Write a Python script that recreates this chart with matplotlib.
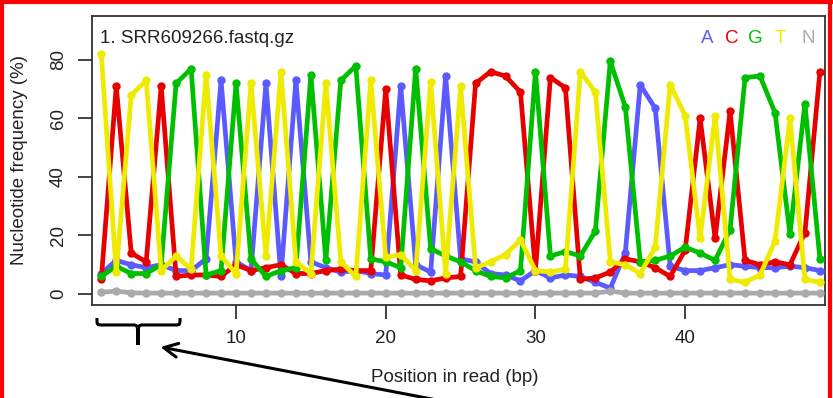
import numpy as np
import matplotlib
matplotlib.use("Agg")
import matplotlib.pyplot as plt
from matplotlib.path import Path
from matplotlib.patches import PathPatch
from matplotlib.lines import Line2D
from matplotlib.transforms import blended_transform_factory

plt.rcParams['font.family'] = ['Liberation Sans', 'DejaVu Sans']

# nucleotide frequency (%) per read position
positions = np.arange(1, 50)
freq_a = [7, 11.5, 10, 9, 10, 8, 8, 12, 73, 11,
          8, 72, 6, 73, 11, 9, 7.5, 8, 7, 6.5,
          71, 10, 7.5, 74.5, 12, 11, 7, 6.5, 4.5, 8,
          5.5, 6.5, 6, 4, 2, 14, 71.5, 63.5, 9.5, 8,
          8, 9, 10, 9.5, 9, 9, 9.5, 9, 8]
freq_c = [5, 71, 14, 11, 71, 6, 6.5, 6.5, 6, 10,
          8, 9, 10, 7, 7, 8, 8.5, 8, 8, 70,
          6.5, 5, 4.5, 5.5, 6, 72, 76, 74.5, 69, 8,
          74, 70.5, 5, 5.5, 7.5, 12, 11, 9, 6, 15,
          60, 19, 62.5, 11.5, 10, 11, 10, 21, 76]
freq_g = [6, 9.5, 7, 7, 10, 72, 77, 6.5, 8, 72,
          12, 6, 8, 9, 75, 11.5, 73, 78, 12, 11,
          9, 77, 15.5, 13, 11, 8, 6, 5.5, 8, 76,
          13, 14.5, 13, 21.5, 79.5, 64, 11, 11.5, 13, 16,
          14, 11.5, 22, 74, 74.5, 62, 20.5, 65, 12]
freq_t = [82, 7.5, 68, 73, 8, 13, 8.5, 75, 13, 7,
          72, 13, 76, 11, 7, 72, 11, 6, 73, 12.5,
          13.5, 8, 72.5, 7, 71, 9, 11, 13.5, 18.5, 8,
          7.5, 8.5, 76, 69, 11, 10, 7, 16, 71.5, 61,
          19, 61, 5, 4, 6.5, 18, 60, 5, 4]
freq_n = [0.6, 1.0, 0.4, 0.3, 0.3, 0.3, 0.3, 0.3, 0.3, 0.3,
          0.3, 0.3, 0.3, 0.3, 0.3, 0.3, 0.3, 0.3, 0.3, 0.3,
          0.3, 0.3, 0.3, 0.3, 0.3, 0.3, 0.3, 0.3, 0.3, 0.3,
          0.3, 0.3, 0.3, 0.3, 1.0, 0.3, 0.3, 0.3, 0.3, 0.3,
          0.3, 0.3, 0.3, 0.3, 0.3, 0.3, 0.3, 0.3, 0.3]

bases = ["A", "C", "G", "T", "N"]
colors = {"A": "#5a5aff", "C": "#e60000", "G": "#00bf00", "T": "#eeea00", "N": "#aaaaaa"}
series = {"A": freq_a, "C": freq_c, "G": freq_g, "T": freq_t, "N": freq_n}

fig = plt.figure(figsize=(8.33, 3.98), dpi=100)
ax = fig.add_axes([92 / 833, 93 / 398, 733 / 833, 289.5 / 398])

for b in bases:
    ax.plot(positions, series[b], color=colors[b], lw=3.4, marker="o",
            markersize=5, solid_joinstyle="round", clip_on=False, zorder=3)

ax.set_xlim(0.38, 49.34)
ax.set_ylim(-3.76, 95.2)
ax.set_xticks([10, 20, 30, 40])
ax.set_yticks([0, 20, 40, 60, 80])
ax.tick_params(axis="both", length=10, width=1.2, color="#222222",
               labelsize=13.5, labelcolor="#222222")
ax.tick_params(axis="x", pad=8)
ax.tick_params(axis="y", pad=8)
for lab in ax.get_yticklabels():
    lab.set_rotation(90)
    lab.set_va("center")
for sp in ax.spines.values():
    sp.set_color("#333333")
    sp.set_linewidth(1.3)

ax.text(0.011, 0.922, "1. SRR609266.fastq.gz", transform=ax.transAxes,
        ha="left", va="center", fontsize=13.5, color="#222222")
legend_x = [707, 732, 755, 780, 808]
for b, px in zip(bases, legend_x):
    ax.text((px - 92) / 733, 0.922, b, transform=ax.transAxes, ha="center",
            va="center", fontsize=13.5, color=colors[b])

fig.text(20 / 833, 1 - 160 / 398, "Nucleotide frequency (%)", rotation=90,
         ha="center", va="center", fontsize=13.5, color="#222222")
fig.text(455 / 833, 1 - 377 / 398, "Position in read (bp)",
         ha="center", va="center", fontsize=13.5, color="#222222")

# curly brace under the first positions
tr = blended_transform_factory(ax.transData, ax.transAxes)
x0, x1, xm = 0.71, 6.26, 3.45
yt, ym, yp = -0.045, -0.069, -0.138
d = 0.35
verts = [(x0, yt), (x0, ym), (x0, ym), (x0 + d, ym),
         (xm - d, ym),
         (xm, ym), (xm, ym), (xm, yp),
         (xm, ym), (xm, ym), (xm + d, ym),
         (x1 - d, ym),
         (x1, ym), (x1, ym), (x1, yt)]
codes = [Path.MOVETO, Path.CURVE4, Path.CURVE4, Path.CURVE4,
         Path.LINETO,
         Path.CURVE4, Path.CURVE4, Path.CURVE4,
         Path.CURVE4, Path.CURVE4, Path.CURVE4,
         Path.LINETO,
         Path.CURVE4, Path.CURVE4, Path.CURVE4]
ax.add_patch(PathPatch(Path(verts, codes), transform=tr, fill=False,
                       lw=2.2, color="black", clip_on=False))

# arrow pointing at the brace
ax.annotate("", xy=(4.95, -0.145), xycoords=tr, xytext=(23.6, -0.33),
            textcoords=tr,
            arrowprops=dict(arrowstyle="->", lw=2.2, color="black",
                            mutation_scale=25, shrinkA=0, shrinkB=0),
            annotation_clip=False)

# red highlight frame of the screenshot
red = "#ff0000"
fig.add_artist(Line2D([2 / 833, 2 / 833], [0, 1], transform=fig.transFigure,
                      color=red, lw=3))
fig.add_artist(Line2D([0, 1], [1 - 2 / 398, 1 - 2 / 398],
                      transform=fig.transFigure, color=red, lw=3))
fig.add_artist(Line2D([830 / 833, 830 / 833], [0, 1], transform=fig.transFigure,
                      color=red, lw=3))

fig.savefig("out.png", dpi=100)
